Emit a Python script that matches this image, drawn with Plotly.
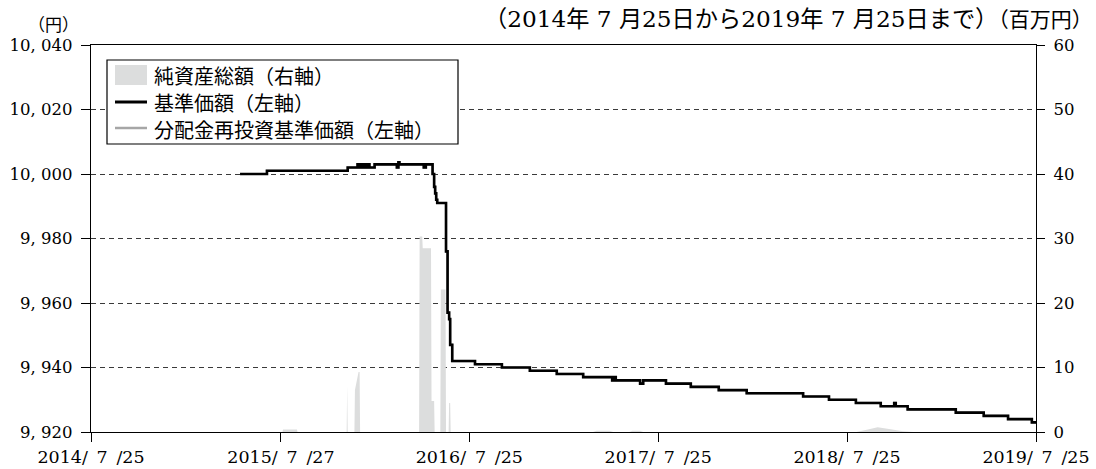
import plotly.graph_objects as go

# ---------------- data ----------------
nav_dates = [
    "2015-05-09", "2015-06-30", "2015-12-03", "2015-12-22", "2015-12-25", "2015-12-28",
    "2015-12-31", "2016-01-04", "2016-01-07", "2016-01-11", "2016-01-14", "2016-01-24",
    "2016-03-07", "2016-03-10", "2016-03-12", "2016-04-28", "2016-05-02", "2016-05-15",
    "2016-05-18", "2016-05-20", "2016-05-22", "2016-05-24", "2016-06-10", "2016-06-13",
    "2016-06-16", "2016-06-18", "2016-06-22", "2016-08-05", "2016-09-26", "2016-11-19",
    "2017-01-10", "2017-03-02", "2017-04-27", "2017-04-30", "2017-05-04", "2017-06-20",
    "2017-06-26", "2017-08-09", "2017-09-26", "2017-11-19", "2018-01-12", "2018-05-01",
    "2018-06-20", "2018-08-11", "2018-09-28", "2018-10-24", "2018-10-27", "2018-11-19",
    "2019-02-20", "2019-04-15", "2019-06-01", "2019-07-17", "2019-07-25",
]
nav_values = [
    10000, 10001, 10002, 10003, 10002, 10003,
    10002, 10003, 10002, 10003, 10002, 10003,
    10002, 10003.6, 10003, 10002, 10003, 10000,
    9996, 9994, 9992, 9991, 9976, 9957,
    9955, 9947, 9942, 9941, 9940, 9939,
    9938, 9937, 9936, 9937, 9936, 9935,
    9936, 9935, 9934, 9933, 9932, 9931,
    9930, 9929, 9928, 9929, 9928, 9927,
    9926, 9925, 9924, 9923, 9923,
]
# no distributions were paid, so the reinvested NAV equals the NAV
reinvest_values = list(nav_values)

na_dates = [
    "2014-07-25", "2015-07-30", "2015-07-31", "2015-08-27", "2015-08-28",
    "2015-12-01", "2015-12-02", "2015-12-03",
    "2015-12-16", "2015-12-17", "2015-12-24", "2015-12-26", "2015-12-27",
    "2016-04-19", "2016-04-20", "2016-04-25", "2016-04-26", "2016-05-12", "2016-05-13",
    "2016-05-18", "2016-05-19",
    "2016-05-30", "2016-05-31", "2016-06-09", "2016-06-10",
    "2016-06-15", "2016-06-16", "2016-06-18", "2016-06-19",
    "2017-03-21", "2017-03-28", "2017-04-22", "2017-04-29",
    "2017-05-30", "2017-06-05", "2017-06-20", "2017-06-26",
    "2018-08-12", "2018-09-01", "2018-09-22", "2018-10-14", "2018-11-10", "2018-11-30",
    "2019-07-25",
]
na_values = [
    0, 0, 0.4, 0.4, 0,
    0, 7.2, 0,
    0, 6.5, 9.3, 9.3, 0,
    0, 30.3, 30.3, 28.5, 28.5, 4.8,
    4.8, 0,
    0, 22.1, 22.1, 0,
    0, 4.5, 4.5, 0,
    0, 0.2, 0.2, 0,
    0, 0.2, 0.2, 0,
    0, 0.35, 0.75, 0.45, 0.1, 0,
    0,
]

x_tick_dates = ["2014-07-25", "2015-07-27", "2016-07-25", "2017-07-25", "2018-07-25", "2019-07-25"]
x_tick_labels = ["2014/\u20027\u2002/25", "2015/\u20027\u2002/27", "2016/\u20027\u2002/25",
                 "2017/\u20027\u2002/25", "2018/\u20027\u2002/25", "2019/\u20027\u2002/25"]
left_ticks = [9920, 9940, 9960, 9980, 10000, 10020, 10040]
left_tick_labels = ["9, 920", "9, 940", "9, 960", "9, 980", "10, 000", "10, 020", "10, 040"]
right_ticks = [0, 10, 20, 30, 40, 50, 60]
right_tick_labels = ["0", "10", "20", "30", "40", "50", "60"]

legend_labels = ["純資産総額（右軸）", "基準価額（左軸）", "分配金再投資基準価額（左軸）"]
title_text = "（2014年 7 月25日から2019年 7 月25日まで）"
left_unit = "（円）"
right_unit = "（百万円）"

# ---------------- figure ----------------
SERIF = "DejaVu Serif"
MIXED = "'DejaVu Serif', 'Noto Sans CJK JP'"
CJK = "Noto Sans CJK JP"
GRAY_FILL = "#dcdddd"
GRAY_LINE = "#a6a6a6"

fig = go.Figure()
fig.add_trace(go.Scatter(
    x=na_dates, y=na_values, name=legend_labels[0], mode="lines",
    fill="tozeroy", fillcolor=GRAY_FILL, line=dict(width=0, color=GRAY_FILL),
    yaxis="y", showlegend=False, hoverinfo="skip",
))
fig.add_trace(go.Scatter(
    x=nav_dates, y=reinvest_values, name=legend_labels[2], mode="lines",
    line=dict(color=GRAY_LINE, width=2.2, shape="hv"), yaxis="y2", showlegend=False,
))
fig.add_trace(go.Scatter(
    x=nav_dates, y=nav_values, name=legend_labels[1], mode="lines",
    line=dict(color="black", width=2.6, shape="hv"), yaxis="y2", showlegend=False,
))

L, R, T, B = 91, 60, 45, 37
W, H = 1096, 469
PW, PH = W - L - R, H - T - B


def px(x):
    return (x - L) / PW


def py(y):
    return (H - B - y) / PH


ytickfont = dict(family=SERIF, size=16.5, color="black")
xtickfont = dict(family=SERIF, size=17.5, color="black")

fig.update_layout(
    width=W, height=H,
    margin=dict(l=L, r=R, t=T, b=B, autoexpand=False),
    paper_bgcolor="white", plot_bgcolor="white",
    showlegend=False,
    xaxis=dict(
        type="date", range=["2014-07-25", "2019-07-25"], automargin=False,
        showline=True, linecolor="black", linewidth=1.3, mirror=True,
        ticks="outside", ticklen=9, tickwidth=1.3, tickcolor="black",
        tickvals=x_tick_dates, ticktext=x_tick_labels, tickfont=xtickfont,
        showgrid=False, zeroline=False,
    ),
    yaxis=dict(
        side="right", range=[0, 60], automargin=False,
        tickvals=right_ticks, ticktext=right_tick_labels, tickfont=ytickfont,
        ticks="outside", ticklen=8, tickwidth=1.3, tickcolor="black",
        showline=True, linecolor="black", linewidth=1.3,
        showgrid=False, zeroline=False, ticklabelstandoff=5,
    ),
    yaxis2=dict(
        overlaying="y", side="left", range=[9920, 10040], automargin=False,
        tickvals=left_ticks, ticktext=left_tick_labels, tickfont=ytickfont,
        ticks="outside", ticklen=9, tickwidth=1.3, tickcolor="black",
        showline=True, linecolor="black", linewidth=1.3,
        showgrid=True, gridcolor="#3a3a3a", gridwidth=1, griddash="5px,4px",
        zeroline=False, ticklabelstandoff=5,
    ),
)

# ---------------- manual legend ----------------
shapes = [
    dict(type="rect", xref="paper", yref="paper", x0=px(107), x1=px(458), y0=py(144), y1=py(60),
         line=dict(color="black", width=1.2), fillcolor="white", layer="above"),
    dict(type="rect", xref="paper", yref="paper", x0=px(115), x1=px(147), y0=py(85), y1=py(65),
         line=dict(width=0), fillcolor=GRAY_FILL, layer="above"),
    dict(type="line", xref="paper", yref="paper", x0=px(115), x1=px(147), y0=py(102), y1=py(102),
         line=dict(color="black", width=3), layer="above"),
    dict(type="line", xref="paper", yref="paper", x0=px(115), x1=px(147), y0=py(128), y1=py(128),
         line=dict(color=GRAY_LINE, width=2.5), layer="above"),
]
fig.update_layout(shapes=shapes)

annotations = []
for label, yc in zip(legend_labels, [75, 102, 129]):
    annotations.append(dict(text=label, xref="paper", yref="paper", x=px(152), y=py(yc),
                            xanchor="left", yanchor="middle", showarrow=False,
                            font=dict(family=CJK, size=20, color="black")))
annotations.append(dict(text=left_unit, xref="paper", yref="paper", x=px(53), y=py(24),
                        xanchor="center", yanchor="middle", showarrow=False,
                        font=dict(family=CJK, size=17, color="black")))
annotations.append(dict(
    text=title_text + "<span style='font-size:21px'>" + right_unit + "</span>",
    xref="paper", yref="paper", x=px(1095), y=py(19),
    xanchor="right", yanchor="middle", showarrow=False,
    font=dict(family=MIXED, size=23.2, color="black")))
fig.update_layout(annotations=annotations)

fig.write_html(
    "out.html",
    config={"displayModeBar": False},
    post_script="document.body.style.margin='0';document.body.style.overflow='hidden';",
)
